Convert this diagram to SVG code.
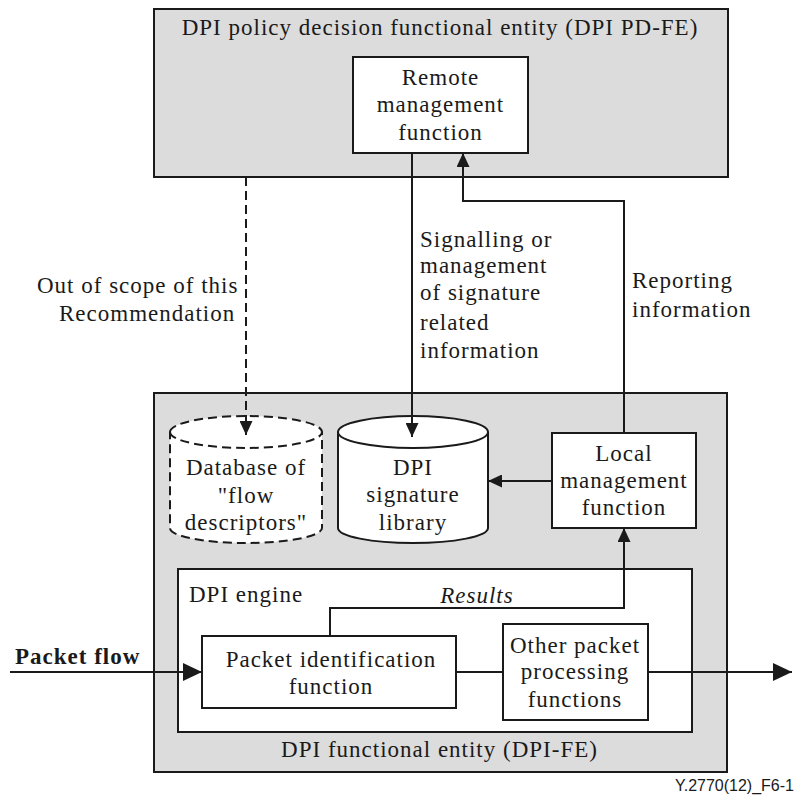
<svg xmlns="http://www.w3.org/2000/svg" width="797" height="795" viewBox="0 0 797 795">
<defs>
<style>
.t{font-family:"Liberation Serif","Times New Roman",serif;font-size:23px;letter-spacing:1px;fill:#1a1a1a}
.m{text-anchor:middle}
.grey{fill:#dcdcdc;stroke:#1a1a1a;stroke-width:2}
.box{fill:#fff;stroke:#1a1a1a;stroke-width:2}
.ln{fill:none;stroke:#1a1a1a;stroke-width:2}
.dash{stroke-dasharray:9,5}
</style>
<marker id="a" markerUnits="userSpaceOnUse" markerWidth="14" markerHeight="13" refX="14" refY="6.5" orient="auto">
<path d="M0,0 L14,6.5 L0,13 z" fill="#1a1a1a"/>
</marker>
<marker id="b" markerUnits="userSpaceOnUse" markerWidth="19" markerHeight="18" refX="19" refY="9" orient="auto">
<path d="M0,0 L19,9 L0,18 z" fill="#1a1a1a"/>
</marker>
</defs>
<rect width="797" height="795" fill="#fff"/>

<g id="pd-fe">
<rect class="grey" x="154" y="9" width="574" height="168"/>
<text class="t m" x="440" y="35">DPI policy decision functional entity (DPI PD-FE)</text>
</g>
<g id="remote-management">
<rect class="box" x="353" y="57" width="175" height="96"/>
<text class="t m" x="440.5" y="85">Remote</text>
<text class="t m" x="440.5" y="112">management</text>
<text class="t m" x="440.5" y="140">function</text>
</g>

<g id="dpi-fe">
<rect class="grey" x="154" y="393" width="573" height="379"/>
<text class="t m" x="439.5" y="757">DPI functional entity (DPI-FE)</text>
</g>

<g id="flow-db">
<path class="box dash" d="M170,432 A76,16 0 0 1 322,432 L322,528 A76,15 0 0 1 170,528 Z"/>
<path class="ln dash" d="M170,432 A76,16 0 0 0 322,432"/>
<text class="t m" x="246" y="475">Database of</text>
<text class="t m" x="246" y="503">"flow</text>
<text class="t m" x="246" y="530">descriptors"</text>
</g>

<g id="signature-library">
<path class="box" d="M338,432 A75,16 0 0 1 488,432 L488,528 A75,15 0 0 1 338,528 Z"/>
<path class="ln" d="M338,432 A75,16 0 0 0 488,432"/>
<text class="t m" x="413" y="475">DPI</text>
<text class="t m" x="413" y="502">signature</text>
<text class="t m" x="413" y="530">library</text>
</g>

<g id="local-management">
<rect class="box" x="552" y="433" width="144" height="95"/>
<text class="t m" x="624" y="461">Local</text>
<text class="t m" x="624" y="488">management</text>
<text class="t m" x="624" y="515">function</text>
</g>

<g id="dpi-engine">
<rect class="box" x="178" y="569" width="514" height="163"/>
<text class="t" x="189" y="602">DPI engine</text>
</g>

<g id="packet-identification">
<rect class="box" x="202" y="636" width="254" height="72"/>
<text class="t m" x="331" y="667">Packet identification</text>
<text class="t m" x="331" y="694">function</text>
</g>

<g id="other-processing">
<rect class="box" x="503" y="624" width="145" height="96"/>
<text class="t m" x="575" y="653">Other packet</text>
<text class="t m" x="575" y="679">processing</text>
<text class="t m" x="575" y="707">functions</text>
</g>

<g id="connectors">
<path class="ln dash" d="M246,177 L246,435" marker-end="url(#a)"/>
<path class="ln" d="M412,153 L412,437" marker-end="url(#a)"/>
<path class="ln" d="M624,433 L624,201 L463,201 L463,153" marker-end="url(#a)"/>
<path class="ln" d="M552,481 L488,481" marker-end="url(#a)"/>
<path class="ln" d="M330,636 L330,608 L624,608 L624,528" marker-end="url(#a)"/>
<path class="ln" d="M10,672 L202,672" marker-end="url(#b)"/>
<path class="ln" d="M456,672 L503,672"/>
<path class="ln" d="M648,672 L792,672" marker-end="url(#b)"/>
<text class="t" x="37" y="293">Out of scope of this</text>
<text class="t" x="59" y="321">Recommendation</text>
<text class="t" x="420" y="247">Signalling or</text>
<text class="t" x="420" y="273">management</text>
<text class="t" x="420" y="300">of signature</text>
<text class="t" x="420" y="330">related</text>
<text class="t" x="420" y="358">information</text>
<text class="t" x="632" y="288">Reporting</text>
<text class="t" x="632" y="317">information</text>
<text class="t m" x="477" y="603" font-style="italic">Results</text>
<text class="t" x="15" y="664" font-weight="bold">Packet flow</text>
</g>

<text x="794" y="791" text-anchor="end" font-family="'Liberation Sans',Arial,sans-serif" font-size="16" fill="#1a1a1a">Y.2770(12)_F6-1</text>
</svg>
